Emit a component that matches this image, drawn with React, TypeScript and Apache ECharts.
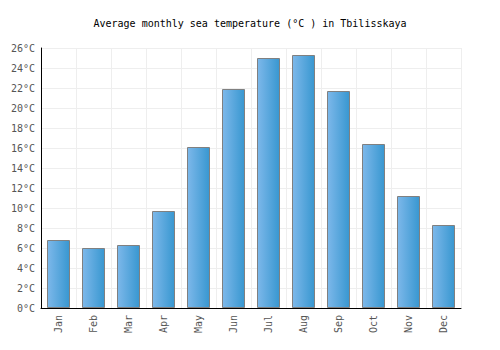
import React, { useEffect, useRef } from "react";
import * as echarts from "echarts";

const months = ["Jan", "Feb", "Mar", "Apr", "May", "Jun", "Jul", "Aug", "Sep", "Oct", "Nov", "Dec"];
const seaTemp = [6.8, 6.0, 6.3, 9.7, 16.1, 21.9, 25.0, 25.3, 21.7, 16.4, 11.2, 8.3];

export default function App() {
  const ref = useRef<HTMLDivElement>(null);
  useEffect(() => {
    const chart = echarts.init(ref.current!, null, { renderer: "svg" });
    const font = "'DejaVu Sans Mono', monospace";
    chart.setOption({
      animation: false,
      backgroundColor: "#ffffff",
      title: {
        text: "Average monthly sea temperature (°C ) in Tbilisskaya",
        left: "center",
        top: 13,
        textStyle: { fontFamily: font, fontSize: 10, fontWeight: "normal", color: "#000" },
      },
      grid: { left: 41, right: 39, top: 48, bottom: 42, containLabel: false },
      xAxis: {
        type: "category",
        data: months,
        axisLine: { lineStyle: { color: "#000", width: 1 } },
        axisTick: { show: false },
        axisLabel: { rotate: 90, fontFamily: font, fontSize: 10, color: "#555", margin: 7 },
        splitLine: { show: true, lineStyle: { color: "#eeeeee" } },
      },
      yAxis: {
        type: "value",
        min: 0,
        max: 26,
        interval: 2,
        axisLine: { show: true, lineStyle: { color: "#000", width: 1 } },
        axisTick: { show: false },
        axisLabel: { formatter: "{value}°C", fontFamily: font, fontSize: 10, color: "#555", margin: 6 },
        splitLine: { show: true, lineStyle: { color: "#eeeeee" } },
      },
      series: [
        {
          type: "bar",
          data: seaTemp,
          barWidth: 23,
          itemStyle: {
            color: new echarts.graphic.LinearGradient(0, 0, 1, 0, [
              { offset: 0, color: "#7db8ea" },
              { offset: 1, color: "#3897d0" },
            ]),
            borderColor: "#808080",
            borderWidth: 1,
          },
        },
      ],
    });
    return () => chart.dispose();
  }, []);
  return <div ref={ref} style={{ width: 500, height: 350, margin: -8 }} />;
}
